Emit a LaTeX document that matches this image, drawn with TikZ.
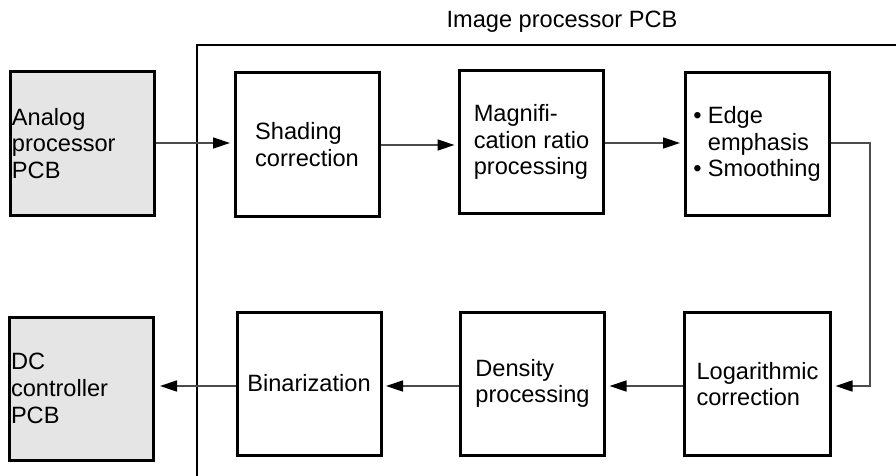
\documentclass[tikz,border=0pt]{standalone}
\usepackage{fontspec}
\setmainfont{Liberation Sans}
\usetikzlibrary{arrows.meta}
\newcommand\bulitem{\makebox[14.6pt][l]{\textbullet}}
\begin{document}
\begin{tikzpicture}[x=1pt,y=-1pt,
  txt/.style={font={\fontsize{23.6}{26.7}\selectfont}},
  procbox/.style={draw=black,line width=3pt,rectangle,inner sep=0pt,txt,align=left,
    minimum width=144pt,minimum height=143pt},
  pcbbox/.style={procbox,fill=black!10,text width=141pt,inner sep=1.5pt},
  conn/.style={draw=black!70,line width=1.4pt,-{Triangle[length=17pt,width=11pt,fill=black,color=black]},shorten >=3.5pt},
  frame/.style={draw=black,line width=1.6pt}
]
\useasboundingbox (0,0) rectangle (896,476);
% frame of the image processor PCB
\coordinate (fbl) at (197,476);
\coordinate (ftl) at (197,45);
\coordinate (ftr) at (896,45);
\draw[frame] (fbl) -- (ftl) -- (ftr);
\node[txt,anchor=base] (title) at (562,28) {Image processor PCB};
% boxes
\node[pcbbox] (analog) at (82.5,143.5) {Analog\\processor\\PCB};
\node[procbox] (shading) at (307,144.5) {Shading\\correction};
\node[procbox] (magn) at (531.5,142) {Magnifi-\\cation ratio\\processing};
\node[procbox] (edge) at (757,144) {\bulitem Edge\\\hspace*{14.6pt}emphasis\\\bulitem Smoothing};
\node[pcbbox] (dc) at (81.5,388.5) {DC\\controller\\PCB};
\node[procbox] (binar) at (309,383.5) {Binarization};
\node[procbox] (density) at (532.5,383.5) {Density\\processing};
\node[procbox,minimum width=146pt] (logc) at (757.5,384) {Logarithmic\\correction};
% connectors
\coordinate (c1) at (870,143);
\coordinate (c2) at (870,386);
\draw[conn] (analog.east |- 0,143) -- (shading.west |- 0,143);
\draw[conn] (shading.east |- 0,145) -- (magn.west |- 0,145);
\draw[conn] (magn.east |- 0,143) -- (edge.west |- 0,143);
\draw[conn] (edge.east |- c1) -- (c1) -- (c2) -- (logc.east |- c2);
\draw[conn] (logc.west |- 0,386) -- (density.east |- 0,386);
\draw[conn] (density.west |- 0,386) -- (binar.east |- 0,386);
\draw[conn,shorten >=5pt] (binar.west |- 0,386) -- (dc.east |- 0,386);
\end{tikzpicture}
\end{document}
